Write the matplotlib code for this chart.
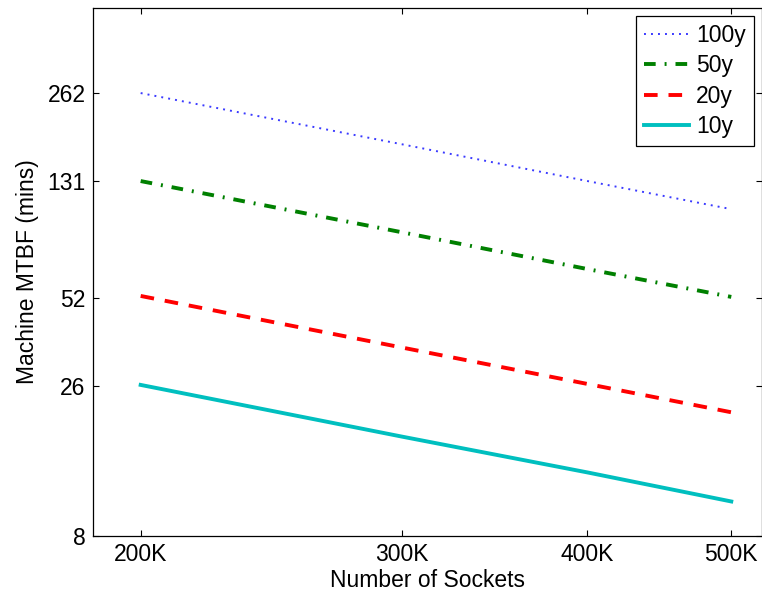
import numpy as np
import matplotlib
matplotlib.use('Agg')
import matplotlib.pyplot as plt

plt.rcParams['font.family'] = ['Liberation Sans', 'DejaVu Sans']

sockets = [200e3, 300e3, 400e3, 500e3]
mtbf_100y = [262, 175, 131, 105]
mtbf_50y = [131, 87.5, 65.5, 52.6]
mtbf_20y = [53, 35.3, 26.5, 21.2]
mtbf_10y = [26.3, 17.5, 13.2, 10.5]

xticks = [200e3, 300e3, 400e3, 500e3]
xtick_labels = ['200K', '300K', '400K', '500K']
yticks = [8, 26, 52, 131, 262]
ytick_labels = ['8', '26', '52', '131', '262']

fig = plt.figure(figsize=(7.62, 5.96), dpi=100)
ax = fig.add_axes([92.5 / 762, 1 - 536 / 596, 669 / 762, 528 / 596])

ax.plot(sockets, mtbf_100y, color='#3a3aff', lw=1.4, linestyle=(0, (1, 2.6)), label='100y')
ax.plot(sockets, mtbf_50y, color='#008000', lw=2.8, linestyle=(0, (3.0, 2.3, 0.5, 2.3)), label='50y')
ax.plot(sockets, mtbf_20y, color='#ff0000', lw=2.8, linestyle=(0, (3.5, 2.8)), label='20y')
ax.plot(sockets, mtbf_10y, color='#00bfbf', lw=2.8, linestyle='-', label='10y')

ax.set_xscale('log')
ax.set_yscale('log')
ax.set_xlim(185.6e3, 524e3)
ax.set_ylim(8, 512)
ax.set_xticks(xticks)
ax.set_xticklabels(xtick_labels)
ax.set_yticks(yticks)
ax.set_yticklabels(ytick_labels)
ax.minorticks_off()
ax.tick_params(which='both', direction='in', length=4.5, width=0.8,
               top=True, right=True, labelsize=16.5, pad=5)
for s in ax.spines.values():
    s.set_linewidth(0.9)

ax.set_xlabel('Number of Sockets', fontsize=16.5, labelpad=2)
ax.set_ylabel('Machine MTBF (mins)', fontsize=16.5, labelpad=6)

leg = ax.legend(loc='upper right', bbox_to_anchor=(0.989, 0.985), borderaxespad=0,
                fontsize=16.5, fancybox=False, framealpha=1, edgecolor='black',
                handlelength=2.0, handletextpad=0.3, labelspacing=0.32,
                borderpad=0.35)
leg.get_frame().set_linewidth(0.9)

fig.savefig('out.png', dpi=100)
